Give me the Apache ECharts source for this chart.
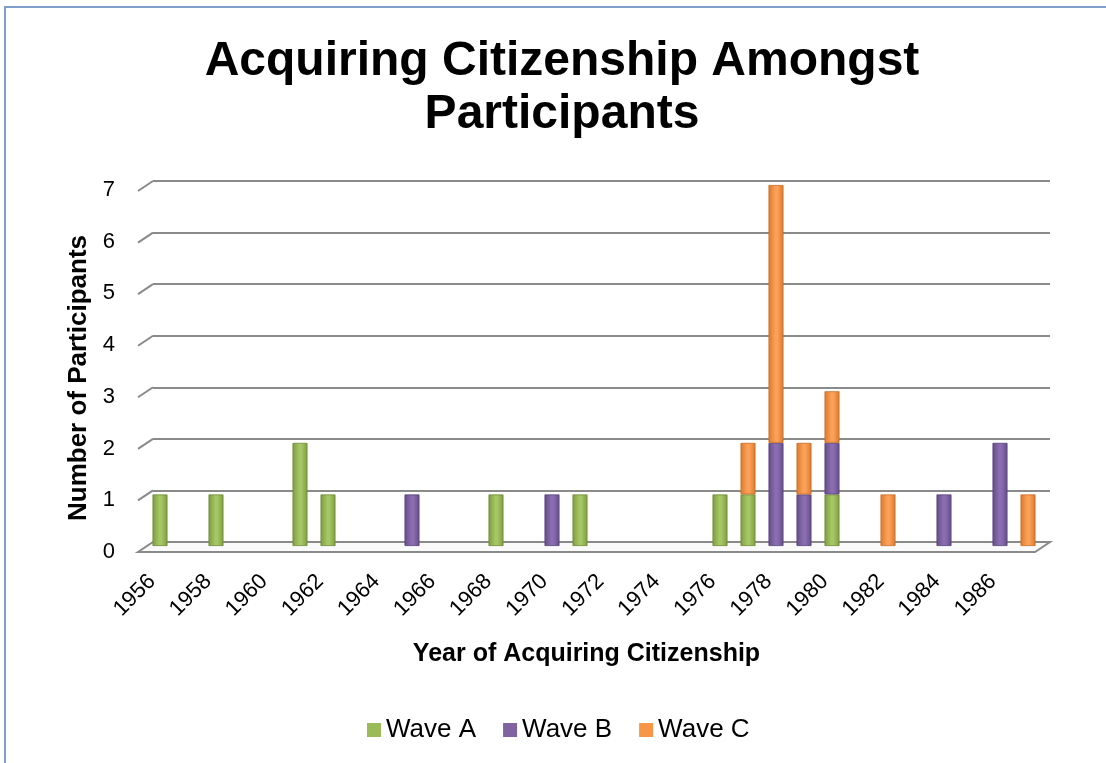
<!DOCTYPE html>
<html>
<head>
<meta charset="utf-8">
<script src="https://cdn.jsdelivr.net/npm/echarts@6/dist/echarts.min.js"></script>
<style>
html,body{margin:0;padding:0;background:#fff;}
#frame{position:absolute;left:4px;top:6px;width:1110px;height:770px;border-left:2px solid #7f9ec9;border-top:2px solid #7f9ec9;}
#chart{position:absolute;left:0;top:0;width:1106px;height:763px;}
</style>
</head>
<body>
<div id="frame"></div>
<div id="chart"></div>
<script>
const years = ['1956','1957','1958','1959','1960','1961','1962','1963','1964','1965','1966','1967','1968','1969','1970','1971','1972','1973','1974','1975','1976','1977','1978','1979','1980','1981','1982','1983','1984','1985','1986','1987'];
const waveA = [1,0,1,0,0,2,1,0,0,0,0,0,1,0,0,1,0,0,0,0,1,1,0,0,1,0,0,0,0,0,0,0];
const waveB = [0,0,0,0,0,0,0,0,0,1,0,0,0,0,1,0,0,0,0,0,0,0,2,1,1,0,0,0,1,0,2,0];
const waveC = [0,0,0,0,0,0,0,0,0,0,0,0,0,0,0,0,0,0,0,0,0,1,5,1,1,0,1,0,0,0,0,1];
const seriesNames = ['Wave A','Wave B','Wave C'];
const yTicks = [0,1,2,3,4,5,6,7];

const font = '"Liberation Sans", Arial, sans-serif';
const DX = 15, DY = 10; // pseudo-3D depth offset
function cyl(edge, mid) {
  return new echarts.graphic.LinearGradient(0,0,1,0,[
    {offset:0, color:edge},{offset:0.45, color:mid},{offset:0.6, color:mid},{offset:1, color:edge}
  ]);
}
const styles = [
  {color: cyl('#7d9b3f','#a5c664'), legend:'#9bbb59', border:'#6f8b35'},
  {color: cyl('#644c86','#8a6db0'), legend:'#8064a2', border:'#57417a'},
  {color: cyl('#d9792c','#fba058'), legend:'#f79646', border:'#c96d25'}
];
const datas = [waveA, waveB, waveC];

const chart = echarts.init(document.getElementById('chart'), null, {renderer:'canvas'});

function wallRender(params, api) {
  const cs = params.coordSys;
  const v = api.value(1);
  const y = api.coord([0, v])[1];
  const x0 = cs.x;
  if (v === 0) {
    return {type:'polygon', shape:{points:[[x0,y],[x0+cs.width,y],[x0+cs.width-DX,y+DY],[x0-DX,y+DY]]},
      style:{fill:'#fafafa', stroke:'#8a8a8a', lineWidth:2}};
  }
  return {type:'line', shape:{x1:x0-DX, y1:y+DY, x2:x0, y2:y},
    style:{stroke:'#8a8a8a', lineWidth:2}};
}

chart.setOption({
  animation:false,
  backgroundColor:'transparent',
  title:{
    text:'Acquiring Citizenship Amongst\nParticipants',
    left:557, top:30, textAlign:'center',
    textStyle:{fontFamily:font, fontSize:48, fontWeight:'bold', color:'#000', lineHeight:53}
  },
  legend:{
    top:712, left:362,
    icon:'rect', itemWidth:14, itemHeight:14, itemGap:27,
    itemStyle:{borderWidth:0},
    textStyle:{fontFamily:font, fontSize:26, color:'#000'},
    data: seriesNames.map((n,i)=>({name:n, itemStyle:{color:styles[i].legend, borderWidth:0}}))
  },
  grid:[
    {left:153, right:56, top:181, bottom:221},
    {left:146, right:64, top:185, bottom:217},
    {left:138, right:71, top:190, bottom:211}
  ],
  xAxis:[
    {gridIndex:0, type:'category', data:years, show:true,
      axisLine:{show:false}, axisTick:{show:false}, axisLabel:{show:false}, splitLine:{show:false}},
    {gridIndex:1, type:'category', data:years, show:false},
    {gridIndex:2, type:'category', data:years,
      axisLine:{show:false}, axisTick:{show:false},
      axisLabel:{interval:1, rotate:45, fontFamily:font, fontSize:22, color:'#000', margin:26},
      name:'Year of Acquiring Citizenship', nameLocation:'middle', nameGap:90,
      nameTextStyle:{fontFamily:font, fontSize:25, fontWeight:'bold', color:'#000'}}
  ],
  yAxis:[
    {gridIndex:0, type:'value', min:0, max:7, interval:1,
      axisLine:{show:false}, axisTick:{show:false}, axisLabel:{show:false},
      splitLine:{show:true, lineStyle:{color:'#8a8a8a', width:2}}},
    {gridIndex:1, type:'value', min:0, max:7, interval:1, show:false, splitLine:{show:false}},
    {gridIndex:2, type:'value', min:0, max:7, interval:1,
      axisLine:{show:false}, axisTick:{show:false}, splitLine:{show:false},
      axisLabel:{fontFamily:font, fontSize:22, color:'#000', margin:23,
        formatter:v=>yTicks.includes(v)?String(v):''},
      name:'Number of Participants', nameLocation:'middle', nameGap:46,
      nameTextStyle:{fontFamily:font, fontSize:26, fontWeight:'bold', color:'#000', padding:[0,14,0,0]}}
  ],
  series: [
    {type:'custom', name:'walls', xAxisIndex:0, yAxisIndex:0, silent:true, z:1, clip:false,
      data: yTicks.map(v=>[0, v]), encode:{x:0, y:1}, renderItem: wallRender}
  ].concat(seriesNames.map((n,i)=>({
    name:n, type:'bar', stack:'total', barWidth:15, xAxisIndex:1, yAxisIndex:1, z:3,
    data: datas[i].map(v=>v===0?null:v),
    itemStyle:{color:styles[i].color, borderColor:styles[i].border, borderWidth:0.8}
  })))
});
</script>
</body>
</html>
